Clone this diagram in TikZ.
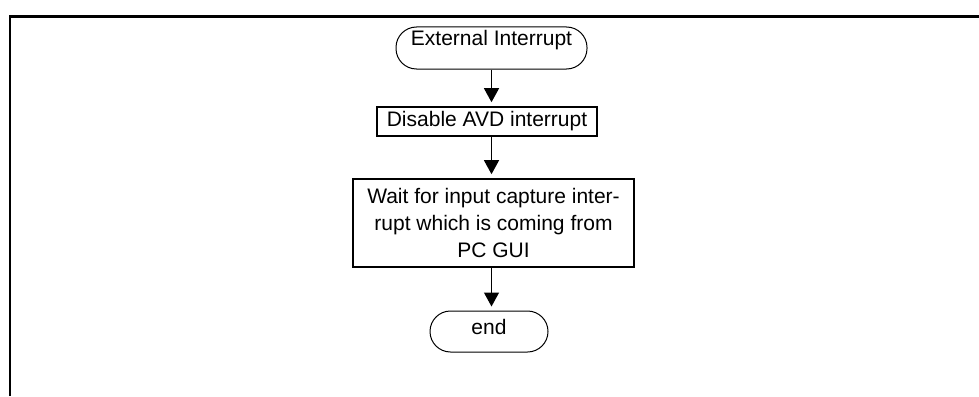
\documentclass[tikz,border=0pt]{standalone}
\usepackage{fontspec}
\setmainfont{Liberation Sans}
\usetikzlibrary{arrows.meta,calc}
\begin{document}
\begin{tikzpicture}[x=1pt,y=-1pt,
  txt/.style={font=\fontsize{21}{26.7}\selectfont},
  terminal/.style={draw, line width=1pt, rounded corners=20.5pt, txt, inner sep=0pt},
  procbox/.style={draw, line width=1.6pt, txt, inner sep=0pt},
  flow/.style={line width=1.3pt, -{Triangle[length=14pt,width=15pt]}, shorten >=4pt}]
\useasboundingbox (0,0) rectangle (979,396);
% open frame: left and top edges only
\coordinate (fbl) at (9.8,396);
\coordinate (ftl) at (9.8,16.5);
\coordinate (ftr) at (979,16.5);
\draw[line width=2.3pt] (fbl) -- (ftl) -- (ftr);

\node[terminal, minimum width=191pt, minimum height=42pt, text height=15pt, text depth=19pt]
  (ext) at (491.5,48) {External Interrupt};
\node[procbox, minimum width=220pt, minimum height=29pt, text height=14pt, text depth=5pt]
  (dis) at (487,121.5) {Disable AVD interrupt};
\node[procbox, minimum width=281pt, minimum height=88pt, align=center]
  (wait) at (493.5,223) {Wait for input capture inter-\\rupt which is coming from\\PC GUI};
\node[terminal, minimum width=118pt, minimum height=41pt, text height=12pt, text depth=7pt]
  (stop) at (489,331.5) {end};

\draw[flow] (ext.south) -- (ext.south |- dis.north);
\draw[flow] (dis.south -| ext.south) -- (ext.south |- wait.north);
\draw[flow] (wait.south -| ext.south) -- (ext.south |- stop.north);
\end{tikzpicture}
\end{document}
